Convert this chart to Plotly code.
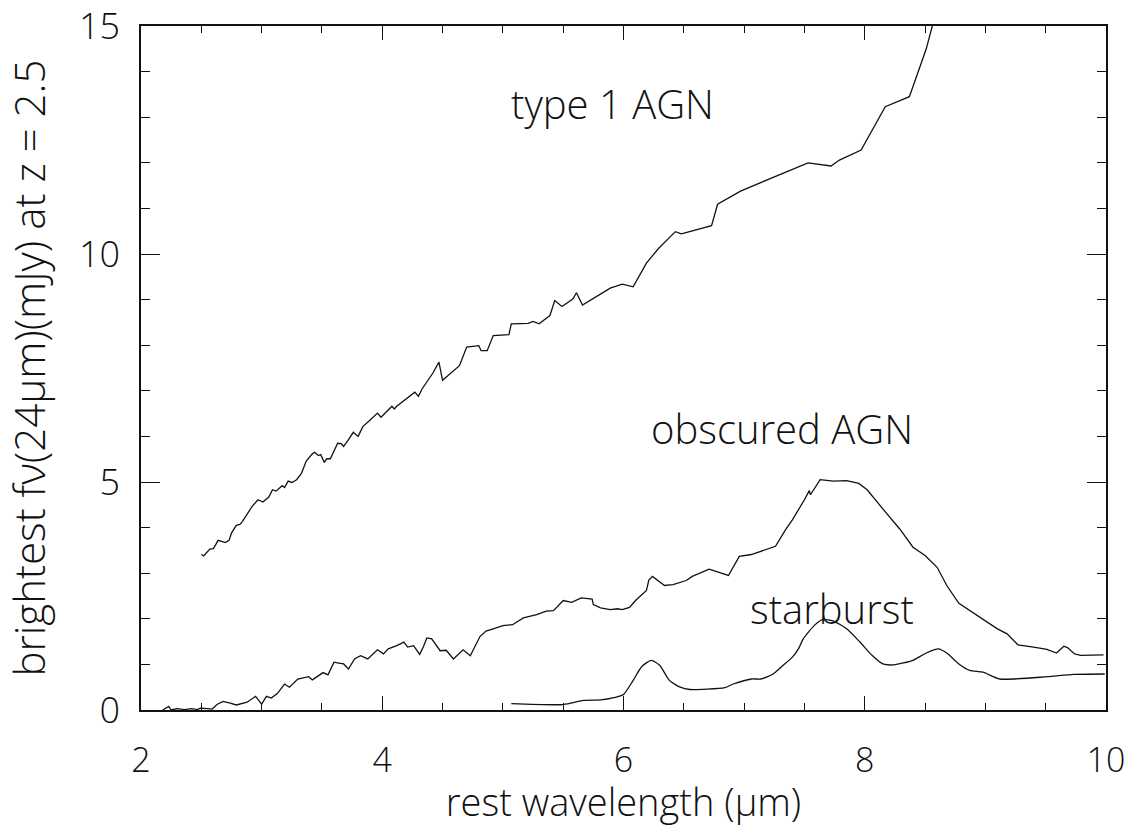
import plotly.graph_objects as go

# ---- data ----
type1_x = [2.50, 2.52, 2.57, 2.60, 2.64, 2.67, 2.70, 2.73, 2.75, 2.79, 2.82, 2.84, 2.86, 2.92, 2.97,
           3.01, 3.06, 3.09, 3.12, 3.17, 3.19, 3.22, 3.25, 3.29, 3.33, 3.37, 3.42, 3.44, 3.47, 3.49,
           3.52, 3.54, 3.57, 3.60, 3.63, 3.66, 3.68, 3.72, 3.76, 3.80, 3.84, 3.90, 3.96, 3.99, 4.04,
           4.08, 4.10, 4.12, 4.27, 4.30, 4.33, 4.42, 4.47, 4.50, 4.64, 4.70, 4.80, 4.82, 4.87, 4.92,
           5.05, 5.07, 5.21, 5.25, 5.30, 5.39, 5.43, 5.45, 5.49, 5.58, 5.61, 5.66, 5.78, 5.89, 5.99,
           6.08, 6.19, 6.29, 6.43, 6.48, 6.73, 6.78, 6.97, 7.53, 7.72, 7.79, 7.97, 8.17, 8.37, 8.51,
           8.56, 8.62]
type1_y = [3.41, 3.38, 3.53, 3.54, 3.72, 3.70, 3.67, 3.72, 3.88, 4.05, 4.07, 4.13, 4.21, 4.46, 4.61,
           4.56, 4.67, 4.83, 4.80, 4.92, 4.88, 5.02, 4.99, 5.05, 5.19, 5.46, 5.62, 5.65, 5.58, 5.60,
           5.43, 5.51, 5.51, 5.69, 5.85, 5.84, 5.78, 5.93, 6.09, 6.00, 6.22, 6.36, 6.51, 6.42, 6.56,
           6.66, 6.60, 6.66, 6.97, 6.88, 7.04, 7.39, 7.63, 7.23, 7.55, 7.96, 7.99, 7.88, 7.88, 8.21,
           8.23, 8.47, 8.48, 8.52, 8.47, 8.65, 8.98, 8.93, 8.85, 9.01, 9.15, 8.88, 9.07, 9.25, 9.34,
           9.28, 9.80, 10.12, 10.49, 10.44, 10.62, 11.09, 11.38, 12.00, 11.93, 12.06, 12.28, 13.23, 13.45, 14.50,
           15.00, 15.60]

obsc_x = [2.18, 2.21, 2.23, 2.25, 2.30, 2.36, 2.42, 2.47, 2.49, 2.55, 2.59, 2.63, 2.68, 2.74, 2.79,
          2.88, 2.95, 3.00, 3.04, 3.08, 3.13, 3.19, 3.23, 3.30, 3.37, 3.39, 3.42, 3.47, 3.51, 3.55,
          3.60, 3.64, 3.68, 3.72, 3.77, 3.82, 3.88, 3.96, 4.01, 4.05, 4.12, 4.18, 4.21, 4.26, 4.31,
          4.34, 4.37, 4.41, 4.48, 4.53, 4.59, 4.67, 4.73, 4.81, 4.86, 4.92, 5.00, 5.08, 5.17, 5.28,
          5.36, 5.42, 5.50, 5.57, 5.65, 5.74, 5.75, 5.81, 5.89, 5.95, 5.99, 6.05, 6.10, 6.19, 6.21,
          6.24, 6.34, 6.41, 6.52, 6.57, 6.71, 6.87, 6.96, 7.06, 7.16, 7.26, 7.34, 7.40, 7.50, 7.54,
          7.55, 7.63, 7.74, 7.85, 7.95, 8.02, 8.15, 8.29, 8.40, 8.50, 8.60, 8.68, 8.78, 8.85, 8.93,
          9.01, 9.10, 9.18, 9.27, 9.40, 9.51, 9.59, 9.65, 9.68, 9.74, 9.79, 9.98]
obsc_y = [0.00, 0.05, 0.08, 0.00, 0.03, 0.01, 0.03, 0.01, 0.04, 0.03, 0.02, 0.12, 0.19, 0.15, 0.11,
          0.17, 0.30, 0.13, 0.30, 0.26, 0.36, 0.57, 0.50, 0.68, 0.72, 0.73, 0.66, 0.74, 0.82, 0.77,
          1.05, 1.03, 1.01, 0.90, 1.12, 1.19, 1.12, 1.32, 1.23, 1.34, 1.41, 1.49, 1.38, 1.41, 1.22,
          1.38, 1.58, 1.56, 1.30, 1.31, 1.12, 1.32, 1.19, 1.61, 1.73, 1.78, 1.85, 1.87, 2.02, 2.09,
          2.17, 2.18, 2.40, 2.36, 2.46, 2.43, 2.31, 2.24, 2.20, 2.22, 2.20, 2.25, 2.40, 2.62, 2.85,
          2.93, 2.73, 2.75, 2.84, 2.93, 3.09, 2.95, 3.37, 3.41, 3.50, 3.59, 3.94, 4.17, 4.61, 4.81,
          4.72, 5.05, 5.02, 5.03, 4.97, 4.83, 4.41, 3.97, 3.57, 3.39, 3.13, 2.73, 2.34, 2.22, 2.07,
          1.93, 1.78, 1.67, 1.43, 1.38, 1.33, 1.25, 1.40, 1.37, 1.23, 1.20, 1.21]

sb_x = [5.07, 5.50, 5.67, 5.81, 5.92, 6.00, 6.08, 6.15, 6.23, 6.30, 6.38, 6.47, 6.55, 6.84, 6.91,
        7.06, 7.14, 7.24, 7.31, 7.40, 7.45, 7.49, 7.58, 7.65, 7.74, 7.85, 7.96, 8.06, 8.15, 8.24,
        8.40, 8.51, 8.61, 8.68, 8.78, 8.87, 8.98, 9.12, 9.51, 9.73, 9.99]
sb_y = [0.14, 0.12, 0.21, 0.22, 0.27, 0.34, 0.65, 0.95, 1.09, 0.98, 0.65, 0.50, 0.45, 0.49, 0.57,
        0.68, 0.68, 0.79, 0.95, 1.16, 1.34, 1.56, 1.85, 1.98, 1.95, 1.78, 1.49, 1.20, 1.01, 0.99,
        1.09, 1.25, 1.34, 1.25, 1.01, 0.87, 0.83, 0.68, 0.73, 0.78, 0.79]

labels = ["type 1 AGN", "obscured AGN", "starburst"]
label_x = [5.91, 7.31, 7.73]
label_y = [13.30, 6.17, 2.22]

x_ticks = [2, 4, 6, 8, 10]
y_ticks = [0, 5, 10, 15]

FONT = "Open Sans"
WEIGHT = 300
INK = "#111111"

fig = go.Figure()
line = dict(color=INK, width=1.3)
fig.add_trace(go.Scatter(x=type1_x, y=type1_y, mode="lines", line=line, showlegend=False))
fig.add_trace(go.Scatter(x=obsc_x, y=obsc_y, mode="lines", line=line, showlegend=False))
fig.add_trace(go.Scatter(x=sb_x, y=sb_y, mode="lines",
                         line=dict(color=INK, width=1.3, shape="spline", smoothing=0.6),
                         showlegend=False))

for t, xx, yy in zip(labels, label_x, label_y):
    fig.add_annotation(x=xx, y=yy, text=t, showarrow=False, xanchor="center", yanchor="middle",
                       font=dict(family=FONT, size=40, color=INK, weight=WEIGHT))

axis_common = dict(showline=True, linecolor=INK, linewidth=1.6, mirror="allticks",
                   ticks="inside", tickcolor=INK, tickwidth=1.4, showgrid=False, zeroline=False,
                   ticklabeloverflow="allow", automargin=False)

fig.update_xaxes(range=[2, 10], tickvals=x_ticks, ticktext=[str(v) for v in x_ticks], ticklen=14,
                 minor=dict(dtick=0.5, tick0=2, ticks="inside", ticklen=7, tickcolor=INK, tickwidth=1.2),
                 ticklabelstandoff=19,
                 tickfont=dict(family=FONT, size=34, color=INK, weight=WEIGHT),
                 title=dict(text="rest wavelength (μm)", standoff=14,
                            font=dict(family=FONT, size=38, color=INK, weight=WEIGHT)),
                 **axis_common)
fig.update_yaxes(range=[0, 15], tickvals=y_ticks, ticktext=[str(v) for v in y_ticks], ticklen=19,
                 minor=dict(dtick=1, tick0=0, ticks="inside", ticklen=9, tickcolor=INK, tickwidth=1.2),
                 ticklabelstandoff=12,
                 tickfont=dict(family=FONT, size=36, color=INK, weight=WEIGHT),
                 title=dict(text="brightest fν(24μm)(mJy) at z = 2.5", standoff=22,
                            font=dict(family=FONT, size=42, color=INK, weight=WEIGHT)),
                 **axis_common)

fig.update_layout(width=1139, height=827, autosize=False,
                  margin=dict(l=141, r=33, t=26, b=117, pad=0),
                  plot_bgcolor="white", paper_bgcolor="white")

fig.write_html("out.html", config={"displayModeBar": False},
               post_script="document.body.style.margin='0';document.body.style.padding='0';"
                           "document.body.style.overflow='hidden';")
